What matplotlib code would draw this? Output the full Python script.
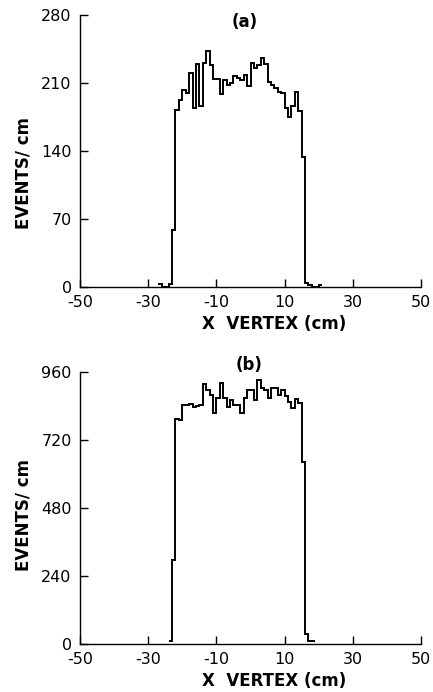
import numpy as np
import matplotlib
matplotlib.use("Agg")
import matplotlib.pyplot as plt

# 1 cm bins; first left edge of each histogram
start_a = -27
counts_a = [3, 0, 0, 3, 59, 182, 192, 203, 200, 220, 184, 230, 186, 231, 243,
            229, 214, 214, 199, 213, 208, 210, 217, 215, 213, 218, 207, 231,
            225, 229, 236, 230, 211, 208, 205, 201, 200, 184, 175, 186, 201,
            181, 134, 4, 2, 0, 0, 2]

start_b = -24
counts_b = [12, 296, 794, 791, 843, 845, 847, 837, 840, 843, 916, 896, 880,
            816, 867, 922, 869, 837, 860, 843, 843, 816, 870, 896, 896, 860,
            931, 902, 896, 867, 902, 902, 880, 896, 876, 855, 832, 864, 850,
            643, 35, 12, 12]

x_ticks = [-50, -30, -10, 10, 30, 50]
y_ticks_a = [0, 70, 140, 210, 280]
y_ticks_b = [0, 240, 480, 720, 960]

W, H = 433, 692
fig = plt.figure(figsize=(W / 100, H / 100), dpi=100)


def px_axes(left, top, right, bottom):
    return fig.add_axes([left / W, 1 - bottom / H, (right - left) / W,
                         (bottom - top) / H])


def style(ax, yticks):
    ax.spines["top"].set_visible(False)
    ax.spines["right"].set_visible(False)
    ax.spines["left"].set_linewidth(1.0)
    ax.spines["bottom"].set_linewidth(1.0)
    ax.set_xlim(-50, 50)
    ax.set_ylim(0, yticks[-1])
    ax.set_xticks(x_ticks)
    ax.set_yticks(yticks)
    # plain hyphen for negative ticks, as on the original lettering
    ax.set_xticklabels([str(t) for t in x_ticks])
    ax.tick_params(direction="in", length=6, width=1.0, labelsize=11.5,
                   pad=6)


def hist(ax, start, counts):
    edges = start + np.arange(len(counts) + 1)
    ax.stairs(counts, edges, color="black", linewidth=1.4, baseline=None)


ax_a = px_axes(80, 15, 421, 287)
hist(ax_a, start_a, counts_a)
style(ax_a, y_ticks_a)

ax_b = px_axes(80, 372, 421, 644)
hist(ax_b, start_b, counts_b)
style(ax_b, y_ticks_b)

# panel letters and axis titles
fig.text(245 / W, 1 - 22 / H, "(a)", ha="center", va="center",
         fontsize=12, fontweight="bold")
fig.text(249 / W, 1 - 365 / H, "(b)", ha="center", va="center",
         fontsize=12, fontweight="bold")
for yc in (324, 681):
    fig.text(274 / W, 1 - yc / H, "X  VERTEX (cm)", ha="center",
             va="center", fontsize=12, fontweight="bold")
for yc in (173, 515):
    fig.text(24 / W, 1 - yc / H, "EVENTS/ cm", ha="center", va="center",
             rotation=90, fontsize=12, fontweight="bold")

fig.savefig("out.png", dpi=100)
